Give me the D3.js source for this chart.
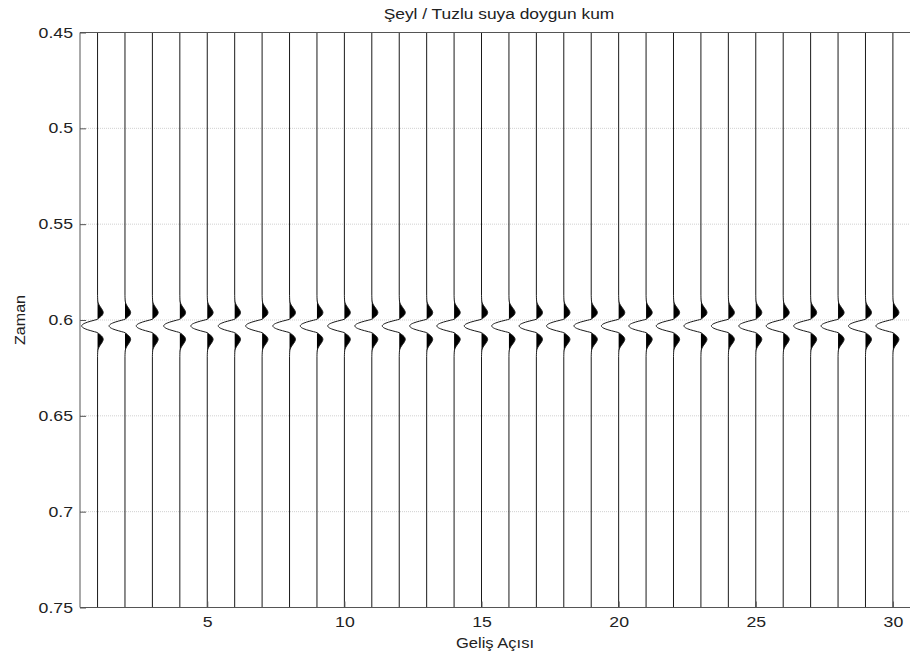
<!DOCTYPE html>
<html><head><meta charset="utf-8">
<script src="https://cdn.jsdelivr.net/npm/d3@7"></script>
<style>body{margin:0;background:#fff}svg{display:block}text{font-family:"Liberation Sans",Arial,sans-serif;fill:#222}</style>
</head><body><svg id="c" width="910" height="655"></svg>
<script>
// ---- data ----
const angles = [1,2,3,4,5,6,7,8,9,10,11,12,13,14,15,16,17,18,19,20,21,22,23,24,25,26,27,28,29,30];
// peak amplitude of each trace, in angle units (multiplies the wavelet, whose main lobe is negative)
const traceAmplitude = [0.58,0.58,0.59,0.59,0.60,0.60,0.60,0.61,0.61,0.61,0.62,0.62,0.62,0.63,0.63,0.63,0.63,0.63,0.63,0.63,0.63,0.63,0.62,0.62,0.62,0.62,0.62,0.62,0.62,0.62];
const eventTime = 0.6031;
// wavelet: time offset (s) and normalised amplitude
const waveletOffset = [-0.016,-0.015,-0.014,-0.013,-0.0125,-0.012,-0.0115,-0.011,-0.0105,-0.010,-0.0095,-0.009,-0.0085,-0.008,-0.0075,-0.007,-0.0065,-0.006,-0.0055,-0.005,-0.0045,-0.004,-0.0035,-0.003,-0.0025,-0.002,-0.0015,-0.001,-0.0005,0,0.0005,0.001,0.0015,0.002,0.0025,0.003,0.0035,0.004,0.0045,0.005,0.0055,0.006,0.0065,0.007,0.0075,0.008,0.0085,0.009,0.0095,0.010,0.0105,0.011,0.0115,0.012,0.0125,0.013,0.014,0.015,0.016];
const waveletShape  = [0,0.003,0.007,0.015,0.025,0.042,0.065,0.095,0.13,0.17,0.21,0.25,0.29,0.32,0.345,0.355,0.345,0.32,0.28,0.22,0.145,0.075,0,-0.20,-0.42,-0.62,-0.78,-0.90,-0.97,-1.0,-0.97,-0.90,-0.78,-0.62,-0.42,-0.20,0,0.075,0.145,0.22,0.28,0.32,0.345,0.355,0.345,0.32,0.29,0.25,0.21,0.17,0.13,0.095,0.065,0.042,0.025,0.015,0.007,0.003,0];
const timeTicks = [0.45,0.5,0.55,0.6,0.65,0.7,0.75];
const angleTicks = [5,10,15,20,25,30];
const title = "Şeyl / Tuzlu suya doygun kum";
const xLabel = "Geliş Açısı";
const yLabel = "Zaman";

// ---- layout ----
const L=80, R=911, T=32.5, B=607.5;
const svg = d3.select("#c");
const x = d3.scaleLinear().domain([0.36,30.66]).range([L,R]);
const y = d3.scaleLinear().domain([0.45,0.75]).range([T,B]);

function stretch(sel, k){
  sel.each(function(){ const w=this.getComputedTextLength(); d3.select(this).attr("textLength",w*k).attr("lengthAdjust","spacingAndGlyphs"); });
}

// grid
svg.append("g").selectAll("line").data(timeTicks).join("line")
  .attr("x1",L).attr("x2",R).attr("y1",d=>y(d)).attr("y2",d=>y(d))
  .attr("stroke","#d0d0d0").attr("stroke-width",1).attr("stroke-dasharray","1,1");

// traces
const traceData = angles.map((a,i)=>{
  const pts=[{t:0.45,v:0}];
  waveletOffset.forEach((o,j)=>pts.push({t:eventTime+o,v:traceAmplitude[i]*waveletShape[j]}));
  pts.push({t:0.75,v:0});
  return {a,pts};
});
const g = svg.append("g");
traceData.forEach(tr=>{
  const fill = d3.area().curve(d3.curveMonotoneY)
    .y(p=>y(p.t)).x0(x(tr.a)).x1(p=>x(tr.a+Math.max(0,p.v)));
  g.append("path").attr("d",fill(tr.pts)).attr("fill","#000").attr("stroke","none");
  const line = d3.line().curve(d3.curveMonotoneY).y(p=>y(p.t)).x(p=>x(tr.a+p.v));
  g.append("path").attr("d",line(tr.pts)).attr("fill","none").attr("stroke","#1a1a1a").attr("stroke-width",1);
});

// axes box lines
svg.append("line").attr("x1",L).attr("x2",R).attr("y1",T).attr("y2",T).attr("stroke","#555");
svg.append("line").attr("x1",L).attr("x2",R).attr("y1",B).attr("y2",B).attr("stroke","#555");
svg.append("line").attr("x1",L).attr("x2",L).attr("y1",T).attr("y2",B).attr("stroke","#555");

const ya = d3.axisLeft(y).tickValues(timeTicks).tickFormat(d3.format("")).tickSizeInner(-6).tickSizeOuter(0).tickPadding(7);
const yg = svg.append("g").attr("transform",`translate(${L},0)`).call(ya);
const xa = d3.axisBottom(x).tickValues(angleTicks).tickSizeInner(-6).tickSizeOuter(0).tickPadding(9);
const xg = svg.append("g").attr("transform",`translate(0,${B})`).call(xa);
[yg,xg].forEach(a=>{a.select(".domain").remove();a.selectAll("line").attr("stroke","#555");
  a.selectAll("text").attr("font-size",14.5).attr("fill","#222").style("font-family","Liberation Sans, Arial, sans-serif").call(stretch,1.22);});

svg.append("text").attr("x",499).attr("y",18.5).attr("text-anchor","middle").attr("font-size",14).text(title).call(stretch,1.24);
svg.append("text").attr("x",495).attr("y",648).attr("text-anchor","middle").attr("font-size",14).text(xLabel).call(stretch,1.18);
svg.append("text").attr("transform","translate(25,320) rotate(-90)").attr("text-anchor","middle").attr("font-size",14).text(yLabel).call(stretch,1.15);
</script></body></html>
